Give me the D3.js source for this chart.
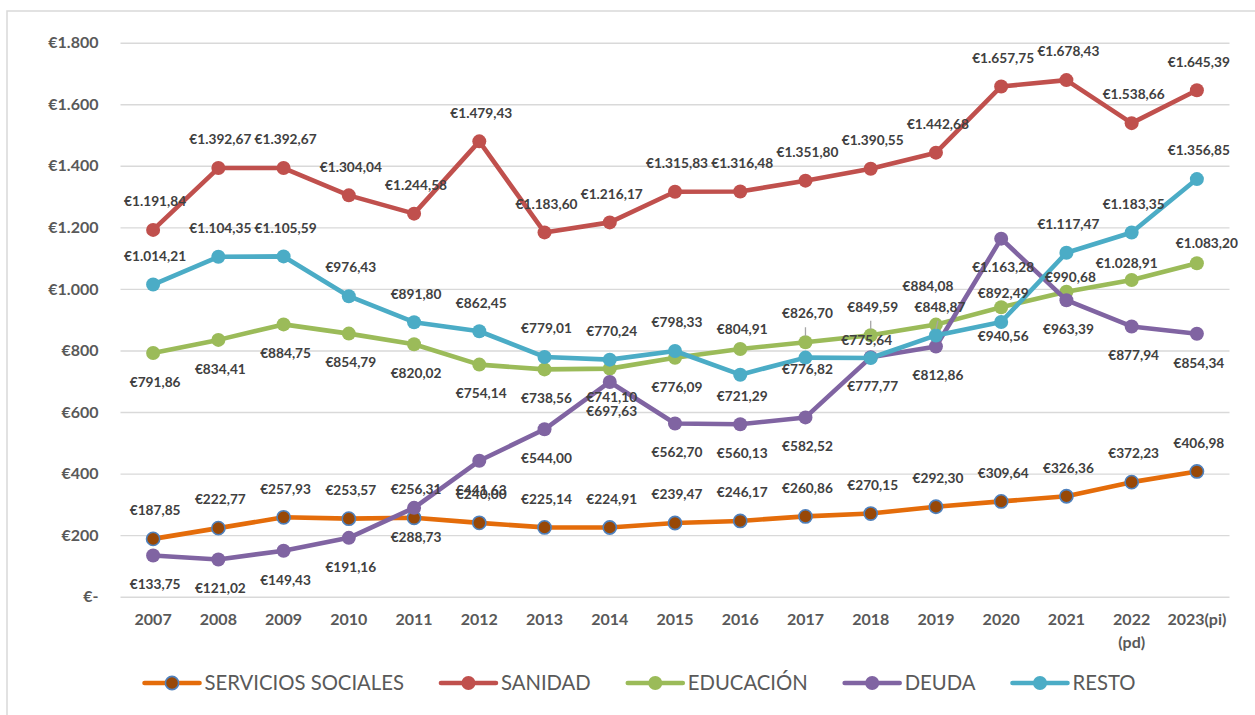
<!DOCTYPE html>
<html><head><meta charset="utf-8">
<script src="https://cdn.jsdelivr.net/npm/d3@7"></script>
<style>
html,body{margin:0;padding:0;background:#fff;}
svg{display:block;font-family:Lato,"Open Sans",sans-serif;}
</style></head><body>
<svg id="chart" width="1255" height="715"></svg>
<script>
// ---------- DATA ----------
const years = ["2007","2008","2009","2010","2011","2012","2013","2014","2015","2016","2017","2018","2019","2020","2021","2022 (pd)","2023(pi)"];
const serviciosSociales = [187.85,222.77,257.93,253.57,256.31,240.00,225.14,224.91,239.47,246.17,260.86,270.15,292.30,309.64,326.36,372.23,406.98];
const sanidad = [1191.84,1392.67,1392.67,1304.04,1244.58,1479.43,1183.60,1216.17,1315.83,1316.48,1351.80,1390.55,1442.68,1657.75,1678.43,1538.66,1645.39];
const educacion = [791.86,834.41,884.75,854.79,820.02,754.14,738.56,741.10,776.09,804.91,826.70,849.59,884.08,940.56,990.68,1028.91,1083.20];
const deuda = [133.75,121.02,149.43,191.16,288.73,441.63,544.00,697.63,562.70,560.13,582.52,777.77,812.86,1163.28,963.39,877.94,854.34];
const resto = [1014.21,1104.35,1105.59,976.43,891.80,862.45,779.01,770.24,798.33,721.29,776.82,775.64,848.87,892.49,1117.47,1183.35,1356.85];
const seriesNames = ["SERVICIOS SOCIALES","SANIDAD","EDUCACIÓN","DEUDA","RESTO"];
const yTicks = [0,200,400,600,800,1000,1200,1400,1600,1800];

// ---------- STYLE / LAYOUT ----------
const W = 1255, H = 715;
const plot = {left:120.5, right:1229.5, top:42.7, bottom:596.7};
const styles = [
  {line:"#E46C0A", fill:"#984807", stroke:"#4F81BD", sw:1.6, labelSide:-1},
  {line:"#C0504D", fill:"#C0504D", stroke:"#C0504D", sw:0, labelSide:-1},
  {line:"#9BBB59", fill:"#9BBB59", stroke:"#9BBB59", sw:0, labelSide:1},
  {line:"#8064A2", fill:"#8064A2", stroke:"#8064A2", sw:0, labelSide:1},
  {line:"#4BACC6", fill:"#4BACC6", stroke:"#4BACC6", sw:0, labelSide:-1}
];
// per-point label overrides: [seriesIndex, pointIndex, dx, dy, leader]
const labelOverrides = [
  [2, 9, 2, -20, false],
  [2,10, 2, -29, true],
  [2,11, 2, -28.5, true],
  [2,12,-8, -38.6, false],
  [2,14, 4, -15, false],
  [2,15,-5, -17, false],
  [2,16,10, -20, false],
  [4, 9, 2, 22, false],
  [4,10, 2, 11.5, false],
  [4,11,-4, -18, false],
  [4,12, 4, -28.7, true]
];

const seriesValues = [serviciosSociales, sanidad, educacion, deuda, resto];

const locale = d3.formatLocale({decimal:",", thousands:".", grouping:[3], currency:["€",""]});
const fmtLabel = locale.format("$,.2f");
const fmtTick = v => v === 0 ? "€-" : locale.format("$,.0f")(v);

const svg = d3.select("#chart");
svg.append("rect").attr("x",0).attr("y",0).attr("width",W).attr("height",H).attr("fill","#fff");
svg.append("rect").attr("x",7).attr("y",11).attr("width",W+20).attr("height",H+20)
  .attr("fill","none").attr("stroke","#D9D9D9").attr("stroke-width",1.5);

const x = d3.scaleBand().domain(years).range([plot.left, plot.right]).padding(0);
const cx = d => x(d) + x.bandwidth()/2;
const y = d3.scaleLinear().domain([0,1800]).range([plot.bottom, plot.top]);

// gridlines + y axis
const yAxis = d3.axisLeft(y).tickValues(yTicks).tickFormat(fmtTick).tickSize(-(plot.right-plot.left)).tickPadding(22);
const gy = svg.append("g").attr("transform",`translate(${plot.left},0)`).call(yAxis);
gy.select(".domain").remove();
gy.selectAll(".tick line").attr("stroke","#D9D9D9").attr("stroke-width",1.4);
gy.selectAll(".tick text").attr("fill","#595959").attr("font-size","16px").attr("font-weight","bold")
  .attr("font-family","Lato");

// x axis labels
const xAxis = d3.axisBottom(x).tickSize(0).tickPadding(0).tickFormat("");
const gx = svg.append("g").attr("transform",`translate(0,${plot.bottom})`).call(xAxis);
gx.select(".domain").remove();
gx.selectAll(".tick").each(function(d){
  const parts = d.split(" ");
  const t = d3.select(this).append("text").attr("fill","#595959").attr("font-size","16px")
    .attr("font-weight","bold").attr("text-anchor","middle").attr("font-family","Lato");
  parts.forEach((p,i)=>{
    t.append("tspan").attr("x",0).attr("y", 23 + i*23).attr("dy","0.35em").text(p);
  });
});

// lines + markers
const line = d3.line().x((d,i)=>cx(years[i])).y(d=>y(d));
seriesValues.forEach((vals, s)=>{
  const st = styles[s];
  const g = svg.append("g");
  g.append("path").datum(vals).attr("d", line).attr("fill","none")
    .attr("stroke", st.line).attr("stroke-width",4.6).attr("stroke-linejoin","round").attr("stroke-linecap","round");
  g.selectAll("circle").data(vals).join("circle")
    .attr("cx",(d,i)=>cx(years[i])).attr("cy",d=>y(d))
    .attr("r", s===0 ? 6.6 : 7)
    .attr("fill", st.fill).attr("stroke", st.stroke).attr("stroke-width", st.sw);
});

// data labels
const labelG = svg.append("g");
const leaderG = svg.append("g");
seriesValues.forEach((vals, s)=>{
  const st = styles[s];
  vals.forEach((v,i)=>{
    let dx = 2, dy = st.labelSide < 0 ? -28.5 : 29, leader = false;
    const ov = labelOverrides.find(o=>o[0]===s && o[1]===i);
    if (ov) { dx = ov[2]; dy = ov[3]; leader = ov[4]; }
    const px = cx(years[i]), py = y(v);
    labelG.append("text").attr("x", px+dx).attr("y", py+dy).attr("dy","0.35em")
      .attr("text-anchor","middle").attr("fill","#404040").attr("font-size","13.7px")
      .attr("font-weight","bold").text(fmtLabel(v));
    if (leader) {
      leaderG.append("line").attr("x1", px+dx-2).attr("y1", py+dy+14)
        .attr("x2", px).attr("y2", py-6).attr("stroke","#A6A6A6").attr("stroke-width",1.3);
    }
  });
});

// legend
const legend = svg.append("g").attr("transform","translate(0,683)");
const items = [];
const lineLen = 55, textGap = 5, itemGap = 37;
seriesNames.forEach((name,s)=>{
  const g = legend.append("g");
  const st = styles[s];
  g.append("line").attr("x1",0).attr("x2",lineLen).attr("y1",0).attr("y2",0)
    .attr("stroke",st.line).attr("stroke-width",4.6).attr("stroke-linecap","round");
  g.append("circle").attr("cx",lineLen/2).attr("cy",0).attr("r", s===0?6.6:7)
    .attr("fill",st.fill).attr("stroke",st.stroke).attr("stroke-width",st.sw);
  const t = g.append("text").attr("x",lineLen+textGap).attr("y",0).attr("dy","0.35em")
    .attr("fill","#595959").attr("font-size","20.3px").text(name);
  const w = lineLen + textGap + t.node().getComputedTextLength();
  items.push({g, w});
});
const total = d3.sum(items, d=>d.w) + itemGap*(items.length-1);
let start = 640 - total/2;
items.forEach(it=>{ it.g.attr("transform",`translate(${start},0)`); start += it.w + itemGap; });
</script>
</body></html>
